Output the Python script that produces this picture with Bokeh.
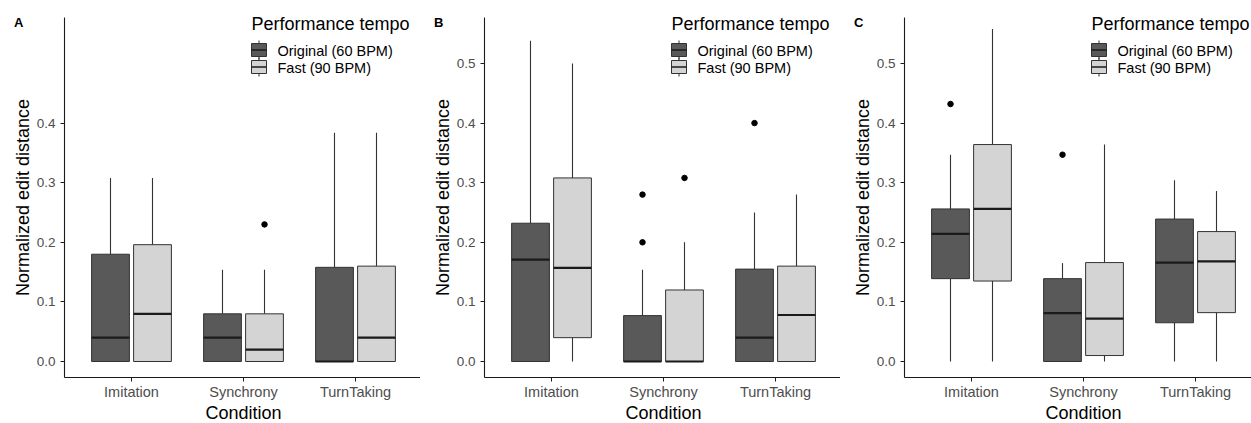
from bokeh.plotting import figure
from bokeh.models import Range1d, FixedTicker, Label, PrintfTickFormatter
from bokeh.layouts import row
from bokeh.embed import file_html
from bokeh.resources import INLINE

# ---------------- data ----------------
categories = ["Imitation", "Synchrony", "TurnTaking"]
tempos = ["Original (60 BPM)", "Fast (90 BPM)"]
legend_title = "Performance tempo"
x_title = "Condition"
y_title = "Normalized edit distance"

# Panel A
A_orig_q1 = [0.0, 0.0, 0.0]
A_orig_med = [0.040, 0.040, 0.0]
A_orig_q3 = [0.180, 0.080, 0.158]
A_orig_lo = [0.0, 0.0, 0.0]
A_orig_hi = [0.308, 0.154, 0.384]
A_orig_out_cat = []
A_orig_out_val = []
A_fast_q1 = [0.0, 0.0, 0.0]
A_fast_med = [0.080, 0.020, 0.040]
A_fast_q3 = [0.196, 0.080, 0.160]
A_fast_lo = [0.0, 0.0, 0.0]
A_fast_hi = [0.308, 0.154, 0.384]
A_fast_out_cat = ["Synchrony"]
A_fast_out_val = [0.230]
A_yticks = [0.0, 0.1, 0.2, 0.3, 0.4]

# Panel B
B_orig_q1 = [0.0, 0.0, 0.0]
B_orig_med = [0.171, 0.0, 0.040]
B_orig_q3 = [0.232, 0.077, 0.155]
B_orig_lo = [0.0, 0.0, 0.0]
B_orig_hi = [0.538, 0.154, 0.250]
B_orig_out_cat = ["Synchrony", "Synchrony", "TurnTaking"]
B_orig_out_val = [0.200, 0.280, 0.400]
B_fast_q1 = [0.040, 0.0, 0.0]
B_fast_med = [0.157, 0.0, 0.078]
B_fast_q3 = [0.308, 0.120, 0.160]
B_fast_lo = [0.0, 0.0, 0.0]
B_fast_hi = [0.500, 0.200, 0.280]
B_fast_out_cat = ["Synchrony"]
B_fast_out_val = [0.308]
B_yticks = [0.0, 0.1, 0.2, 0.3, 0.4, 0.5]

# Panel C
C_orig_q1 = [0.139, 0.0, 0.065]
C_orig_med = [0.214, 0.081, 0.166]
C_orig_q3 = [0.256, 0.139, 0.239]
C_orig_lo = [0.0, 0.0, 0.0]
C_orig_hi = [0.347, 0.165, 0.304]
C_orig_out_cat = ["Imitation", "Synchrony"]
C_orig_out_val = [0.432, 0.347]
C_fast_q1 = [0.135, 0.010, 0.082]
C_fast_med = [0.256, 0.072, 0.168]
C_fast_q3 = [0.364, 0.166, 0.218]
C_fast_lo = [0.0, 0.0, 0.0]
C_fast_hi = [0.558, 0.364, 0.286]
C_fast_out_cat = []
C_fast_out_val = []
C_yticks = [0.0, 0.1, 0.2, 0.3, 0.4, 0.5]

# ---------------- style / layout ----------------
FONT = "Liberation Sans"
DARK = "#595959"
LIGHT = "#d4d4d4"
EDGE = "#333333"
AXIS = "#1a1a1a"
TICKTXT = "#4d4d4d"
FILLS = [DARK, LIGHT]

H = 423
CAT_PX = 112.0      # pixels per category unit
CAT1_PX = 131.0     # pixel position of the first category
ZERO_PY = 361.0     # pixel row of y = 0
PX_Y = 596.0        # pixels per unit of y
AX_LEFT = 64.0      # pixel column of the y axis
AX_TOP = 17.0       # top of the y axis
AX_BOT = 377.0      # pixel row of the x axis
DODGE = 0.1875
BOXW = 0.3375
BASE_FIX = 0.38     # empirical baseline correction (fraction of font size)


def X(px):
    return 1 + (px - CAT1_PX) / CAT_PX


def Y(py):
    return (ZERO_PY - py) / PX_Y


def make_panel(letter, stats, outliers, yticks, width):
    p = figure(width=width, height=H, output_backend="svg", toolbar_location=None,
               x_range=Range1d(X(0), X(width)), y_range=Range1d(Y(H), Y(0)),
               min_border_left=0, min_border_right=0, min_border_top=0, min_border_bottom=0)
    p.outline_line_color = None
    p.grid.visible = False
    p.background_fill_color = "white"
    p.border_fill_color = "white"

    xpos = {c: i + 1 for i, c in enumerate(categories)}

    for k, (q1, med, q3, lo, hi) in enumerate(stats):
        off = -DODGE if k == 0 else DODGE
        xs = [xpos[c] + off for c in categories]
        p.segment(x0=xs, y0=q3, x1=xs, y1=hi, line_color=EDGE, line_width=1.1)
        p.segment(x0=xs, y0=q1, x1=xs, y1=lo, line_color=EDGE, line_width=1.1)
        p.vbar(x=xs, width=BOXW, top=q3, bottom=q1, fill_color=FILLS[k],
               line_color=EDGE, line_width=1)
        p.segment(x0=[x - BOXW / 2 for x in xs], y0=med, x1=[x + BOXW / 2 for x in xs],
                  y1=med, line_color="#1a1a1a", line_width=2.2)
        oc, ov = outliers[k]
        if oc:
            p.scatter(x=[xpos[c] + off for c in oc], y=ov, size=5.5,
                      fill_color="black", line_color="black")

    # axes (fixed in place inside the frame)
    p.xaxis.fixed_location = Y(AX_BOT)
    p.xaxis.bounds = (X(AX_LEFT), X(width))
    p.yaxis.fixed_location = X(AX_LEFT)
    p.yaxis.bounds = (Y(AX_BOT), Y(AX_TOP))
    p.xaxis.ticker = FixedTicker(ticks=[xpos[c] for c in categories])
    p.xaxis.major_label_overrides = {xpos[c]: c for c in categories}
    p.yaxis.ticker = FixedTicker(ticks=yticks)
    p.yaxis.formatter = PrintfTickFormatter(format="%.1f")
    for ax in (p.xaxis, p.yaxis):
        ax.axis_line_color = AXIS
        ax.axis_line_width = 1.1
        ax.major_tick_line_color = AXIS
        ax.major_tick_out = 4
        ax.major_tick_in = 0
        ax.minor_tick_line_color = None
        ax.major_label_text_font = FONT
        ax.major_label_text_color = TICKTXT
    p.xaxis.major_label_text_font_size = "14.5px"
    p.xaxis.major_label_standoff = 2
    p.yaxis.major_label_text_font_size = "13.5px"
    p.yaxis.major_label_standoff = 5
    p.yaxis.axis_label = y_title
    p.yaxis.axis_label_text_font = FONT
    p.yaxis.axis_label_text_font_size = "18px"
    p.yaxis.axis_label_text_font_style = "normal"
    p.yaxis.axis_label_text_color = "black"
    p.yaxis.axis_label_standoff = 1

    def lab(fx, py, text, size_px, style="normal", align="left", color="black"):
        py = py - BASE_FIX * size_px
        p.add_layout(Label(x=fx, y=H - py, x_units="screen", y_units="screen",
                           text=text, text_font=FONT, text_font_size=f"{size_px}px",
                           text_font_style=style, text_color=color,
                           text_align=align, text_baseline="alphabetic"))

    # x title and panel letter
    lab(CAT1_PX + CAT_PX, 419, x_title, 18, align="center")
    lab(13.5, 27, letter, 13, style="bold")

    # legend (drawn by hand, like ggplot's boxplot keys)
    lab(251, 30.5, legend_title, 18)
    key_tops = [43, 60]
    for k, name in enumerate(tempos):
        t = key_tops[k]
        b = t + 13
        c = (t + b) / 2
        p.segment(x0=[X(258.5)], y0=[Y(t - 3)], x1=[X(258.5)], y1=[Y(b + 3)],
                  line_color=EDGE, line_width=1)
        p.quad(left=[X(251)], right=[X(266)], top=[Y(t)], bottom=[Y(b)],
               fill_color=FILLS[k], line_color=EDGE, line_width=1)
        p.segment(x0=[X(251)], y0=[Y(c)], x1=[X(266)], y1=[Y(c)],
                  line_color="#1a1a1a", line_width=1.3)
        lab(277, b + 0.5, name, 14.5)
    return p


pA = make_panel("A",
                [(A_orig_q1, A_orig_med, A_orig_q3, A_orig_lo, A_orig_hi),
                 (A_fast_q1, A_fast_med, A_fast_q3, A_fast_lo, A_fast_hi)],
                [(A_orig_out_cat, A_orig_out_val), (A_fast_out_cat, A_fast_out_val)],
                A_yticks, 420)
pB = make_panel("B",
                [(B_orig_q1, B_orig_med, B_orig_q3, B_orig_lo, B_orig_hi),
                 (B_fast_q1, B_fast_med, B_fast_q3, B_fast_lo, B_fast_hi)],
                [(B_orig_out_cat, B_orig_out_val), (B_fast_out_cat, B_fast_out_val)],
                B_yticks, 420)
pC = make_panel("C",
                [(C_orig_q1, C_orig_med, C_orig_q3, C_orig_lo, C_orig_hi),
                 (C_fast_q1, C_fast_med, C_fast_q3, C_fast_lo, C_fast_hi)],
                [(C_orig_out_cat, C_orig_out_val), (C_fast_out_cat, C_fast_out_val)],
                C_yticks, 411)

layout = row(pA, pB, pC, spacing=0)
open("out.html", "w").write(file_html(layout, INLINE))
